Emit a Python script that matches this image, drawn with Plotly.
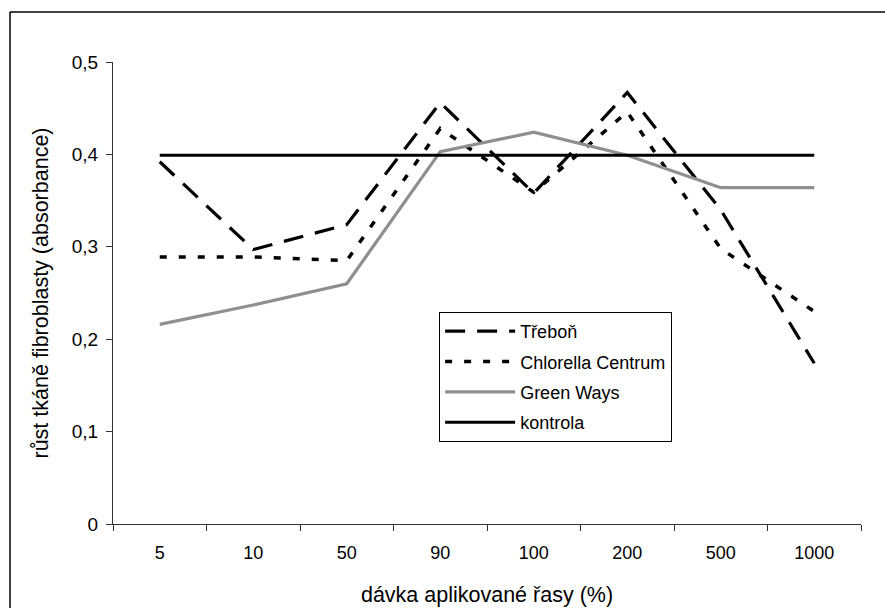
import plotly.graph_objects as go

categories = ["5", "10", "50", "90", "100", "200", "500", "1000"]
trebon = [0.392, 0.297, 0.324, 0.456, 0.358, 0.467, 0.340, 0.174]
chlorella = [0.289, 0.289, 0.285, 0.428, 0.359, 0.446, 0.298, 0.230]
green_ways = [0.216, 0.237, 0.260, 0.403, 0.424, 0.399, 0.364, 0.364]
kontrola = [0.399] * 8
y_tickvals = [0, 0.1, 0.2, 0.3, 0.4, 0.5]
y_ticktext = ["0", "0,1", "0,2", "0,3", "0,4", "0,5"]

FONT = "Arial, Liberation Sans, sans-serif"

fig = go.Figure()
fig.add_trace(go.Scatter(x=categories, y=trebon, mode="lines", name="Třeboň",
                         legendgroup="a",
                         line=dict(color="black", width=3.2, dash="20px,12px")))
fig.add_trace(go.Scatter(x=categories, y=chlorella, mode="lines", name="Chlorella Centrum",
                         legendgroup="b",
                         line=dict(color="black", width=3.5, dash="7px,12px")))
fig.add_trace(go.Scatter(x=categories, y=green_ways, mode="lines", name="Green Ways",
                         legendgroup="c",
                         line=dict(color="#8f8f8f", width=3.2)))
fig.add_trace(go.Scatter(x=categories, y=kontrola, mode="lines", name="kontrola",
                         legendgroup="d",
                         line=dict(color="black", width=3)))

fig.update_layout(
    width=885, height=608,
    margin=dict(l=113, r=24, t=62, b=84, autoexpand=False),
    paper_bgcolor="white", plot_bgcolor="white",
    font=dict(family=FONT, size=18, color="black"),
    showlegend=True,
    legend=dict(x=0.436, y=0.459, xanchor="left", yanchor="top",
                bgcolor="white", bordercolor="black", borderwidth=1,
                font=dict(family=FONT, size=18, color="black"),
                itemwidth=70, tracegroupgap=4, traceorder="grouped"),
    xaxis=dict(type="category", range=[-0.5, 7.5], tickson="boundaries",
               automargin=False,
               ticks="outside", ticklen=6, tickcolor="#333333",
               showline=True, linecolor="#333333", linewidth=1,
               showgrid=False, zeroline=False,
               tickfont=dict(size=18), ticklabelstandoff=12,
               title=dict(text="dávka aplikované řasy (%)", font=dict(size=21.5), standoff=25)),
    yaxis=dict(range=[0, 0.5], tickvals=y_tickvals, ticktext=y_ticktext,
               automargin=False,
               ticks="outside", ticklen=6, tickcolor="#333333",
               showline=True, linecolor="#333333", linewidth=1,
               showgrid=False, zeroline=False,
               tickfont=dict(size=19), ticklabelstandoff=4,
               title=dict(text="růst tkáně fibroblasty (absorbance)", font=dict(size=21.5), standoff=17)),
    shapes=[
        dict(type="line", xref="paper", yref="paper",
             x0=-0.1377, x1=1.2, y0=1.108, y1=1.108,
             line=dict(color="black", width=1.5)),
        dict(type="line", xref="paper", yref="paper",
             x0=-0.1377, x1=-0.1377, y0=-0.4, y1=1.108,
             line=dict(color="black", width=1.5)),
    ],
)

fig.write_html("out.html")
